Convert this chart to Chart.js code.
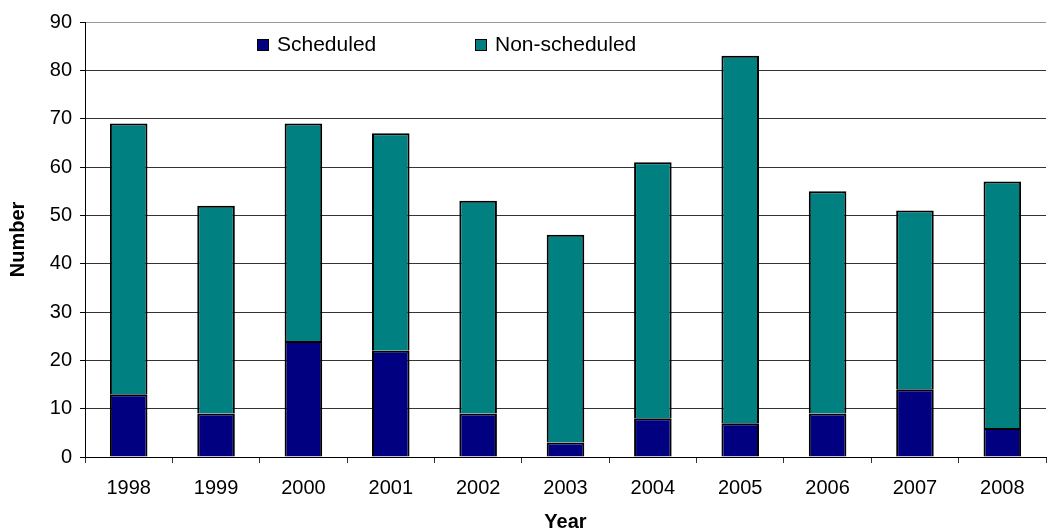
<!DOCTYPE html>
<html>
<head>
<meta charset="utf-8">
<script src="https://cdn.jsdelivr.net/npm/chart.js@4.4.1/dist/chart.umd.min.js"></script>
<style>
  body { margin: 0; background: #fff; }
  #wrap { width: 1047px; height: 532px; }
</style>
</head>
<body>
<div id="wrap"><canvas id="yearChart" width="1047" height="532"></canvas></div>
<script>
// data
var years = ["1998", "1999", "2000", "2001", "2002", "2003", "2004", "2005", "2006", "2007", "2008"];
var scheduled = [13, 9, 24, 22, 9, 3, 8, 7, 9, 14, 6];
var nonScheduled = [56, 43, 45, 45, 44, 43, 53, 76, 46, 37, 51];
var seriesNames = ["Scheduled", "Non-scheduled"];
var seriesColors = ["#000080", "#008080"];

var fontFamily = "'Liberation Sans', Arial, sans-serif";

// legend sits inside the plot, like the original
var insideLegend = {
    id: "insideLegend",
    afterDraw: function (chart) {
        var ctx = chart.ctx;
        var xs = [257, 475];
        ctx.save();
        ctx.font = "21px " + fontFamily;
        ctx.textBaseline = "middle";
        ctx.textAlign = "left";
        chart.data.datasets.forEach(function (ds, i) {
            ctx.fillStyle = ds.backgroundColor;
            ctx.fillRect(xs[i], 39, 12, 12);
            ctx.strokeStyle = "#000";
            ctx.lineWidth = 1;
            ctx.strokeRect(xs[i] + 0.5, 39.5, 11, 11);
            ctx.fillStyle = "#000";
            ctx.fillText(ds.label, xs[i] + 20, 45);
        });
        ctx.restore();
    }
};

new Chart("yearChart", {
    type: "bar",
    data: {
        labels: years,
        datasets: [{
            label: seriesNames[0],
            data: scheduled,
            backgroundColor: seriesColors[0],
            borderColor: "#000",
            borderWidth: 2,
            borderSkipped: "start"
        }, {
            label: seriesNames[1],
            data: nonScheduled,
            backgroundColor: seriesColors[1],
            borderColor: "#000",
            borderWidth: 2,
            borderSkipped: "start"
        }]
    },
    options: {
        responsive: false,
        animation: false,
        layout: { padding: { top: 22, right: 1, bottom: 0, left: 0 } },
        datasets: { bar: { barPercentage: 0.43, categoryPercentage: 1 } },
        plugins: {
            legend: { display: false },
            tooltip: { enabled: false }
        },
        scales: {
            x: {
                stacked: true,
                offset: true,
                grid: {
                    offset: true,
                    drawOnChartArea: false,
                    tickLength: 6,
                    tickColor: "#333"
                },
                border: { color: "#000", width: 1 },
                ticks: {
                    color: "#000",
                    padding: 13,
                    font: { family: fontFamily, size: 20 }
                },
                title: {
                    display: true,
                    text: "Year",
                    color: "#000",
                    padding: { top: 0, bottom: 0 },
                    font: { family: fontFamily, size: 20, weight: "bold", lineHeight: 1 }
                },
                afterFit: function (scale) { scale.height = 75; }
            },
            y: {
                stacked: true,
                min: 0,
                max: 90,
                ticks: {
                    stepSize: 10,
                    color: "#000",
                    padding: 8,
                    font: { family: fontFamily, size: 20 }
                },
                grid: {
                    tickLength: 5,
                    tickColor: "#000",
                    color: function (c) {
                        return c.tick && c.tick.value === 90 ? "#999" : "#333";
                    }
                },
                border: { color: "#000", width: 1 },
                title: {
                    display: true,
                    text: "Number",
                    color: "#000",
                    padding: { top: 8, bottom: 0 },
                    font: { family: fontFamily, size: 20, weight: "bold", lineHeight: 1 }
                },
                afterFit: function (scale) { scale.width = 85; }
            }
        }
    },
    plugins: [insideLegend]
});
</script>
</body>
</html>
